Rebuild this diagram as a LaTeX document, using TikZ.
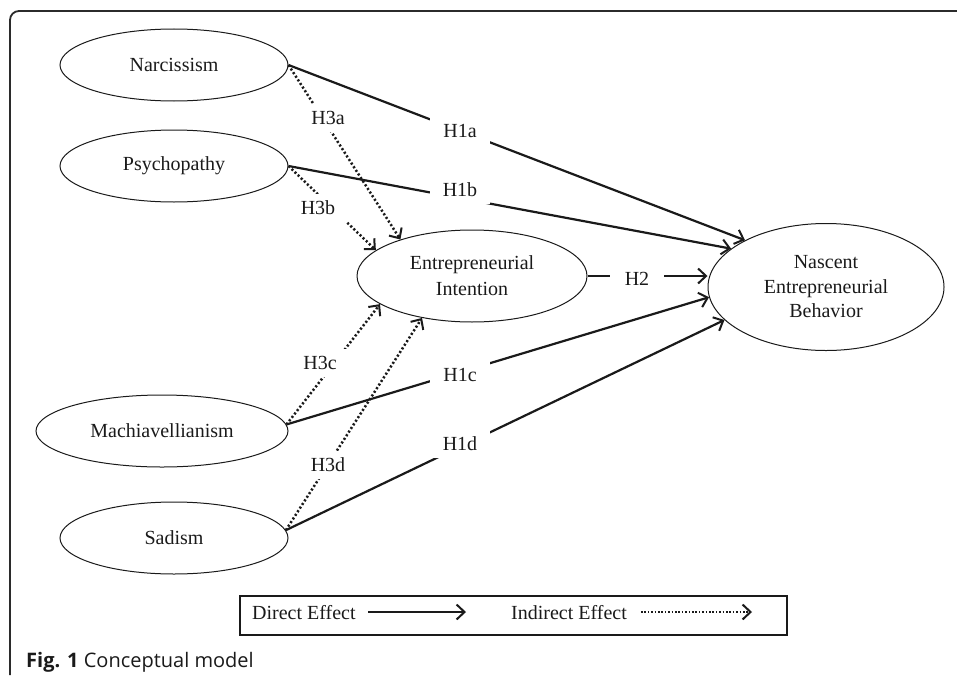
\documentclass[tikz,border=0pt]{standalone}
\usepackage{fontspec}
\setmainfont{Liberation Serif}
\newfontfamily\capfont{Open Sans}
\usetikzlibrary{shapes.geometric,arrows.meta}
\definecolor{mylinecolor}{HTML}{1a1a1a}
\definecolor{myframecolor}{HTML}{2b2b2b}

\begin{document}
\begin{tikzpicture}[x=1pt, y=-1pt,
  trait/.style={draw=mylinecolor, ellipse, line width=1pt, minimum width=228pt, minimum height=72pt, text=mylinecolor, align=center, font=\fontsize{20pt}{24pt}\selectfont},
  hyp/.style={fill=white, inner xsep=13pt, inner ysep=7pt, text=mylinecolor, font=\fontsize{20pt}{20pt}\selectfont},
  direct/.style={draw=mylinecolor, line width=2.2pt, -{Straight Barb[length=8pt,width=15pt,line width=2pt]}},
  indirect/.style={direct, line width=2.5pt, dash pattern=on 2.1pt off 2.2pt},
  legtext/.style={anchor=west, inner sep=0pt, text=mylinecolor, font=\fontsize{20pt}{20pt}\selectfont}]%
\useasboundingbox (0,0) rectangle (957,677);%
\draw[myframecolor, line width=1.8pt, rounded corners=9pt] (10,675) -- (10,11) -- (962,11);%
\node[trait] (narc) at (174,65) {Narcissism};%
\node[trait] (psycho) at (174,166) {Psychopathy};%
\node[trait, minimum width=252pt] (mach) at (162,431) {Machiavellianism};%
\node[trait] (sadism) at (174,538) {Sadism};%
\node[trait, minimum width=230pt, minimum height=92pt, font=\fontsize{20pt}{26pt}\selectfont] (intent) at (472,276) {Entrepreneurial\\Intention};%
\node[trait, minimum width=236pt, minimum height=127pt, font=\fontsize{20pt}{24.5pt}\selectfont] (nascent) at (826,287) {Nascent\\Entrepreneurial\\Behavior};%
\draw[direct] (narc.east) -- (nascent.150);%
\draw[direct] (psycho.east) -- (nascent.158);%
\draw[direct] (intent.east) -- (intent.east -| nascent.west);%
\draw[direct] (mach.3) -- (nascent.185);%
\draw[direct] (sadism.4) -- (nascent.198);%
\draw[indirect] (narc.east) -- (intent.153);%
\draw[indirect] (psycho.east) -- (intent.165);%
\draw[indirect] (mach.3) -- (intent.197);%
\draw[indirect] (sadism.4) -- (intent.220);%
\node[hyp] (h1a) at (460,131) {H1a};%
\node[hyp] (h1b) at (460,190) {H1b};%
\node[hyp] (h1c) at (460,375) {H1c};%
\node[hyp] (h1d) at (460,444) {H1d};%
\node[hyp, inner xsep=15pt] (h2) at (637,279) {H2};%
\node[hyp] (h3a) at (328,118) {H3a};%
\node[hyp] (h3b) at (318,208) {H3b};%
\node[hyp] (h3c) at (320,363) {H3c};%
\node[hyp] (h3d) at (328,465) {H3d};%
\node[draw=mylinecolor, line width=1.2pt, minimum width=547pt, minimum height=39pt] (legend) at (513.5,615.5) {};%
\node[legtext] (dirtxt) at (252,613) {Direct Effect};%
\coordinate (dirstart) at (368,612);%
\coordinate (dirend) at (466,612);%
\draw[direct] (dirstart) -- (dirend);%
\node[legtext] (indtxt) at (511,613) {Indirect Effect};%
\coordinate (indstart) at (641,612);%
\coordinate (indend) at (752,612);%
\draw[indirect, line width=2.2pt, dash pattern=on 1.6pt off 1.8pt] (indstart) -- (indend);%
\node[anchor=base west, inner sep=0pt, text=mylinecolor, font=\capfont\fontsize{20pt}{20pt}\selectfont] (caption) at (26,667) {\textbf{Fig. 1} Conceptual model};%
\end{tikzpicture}
\end{document}
